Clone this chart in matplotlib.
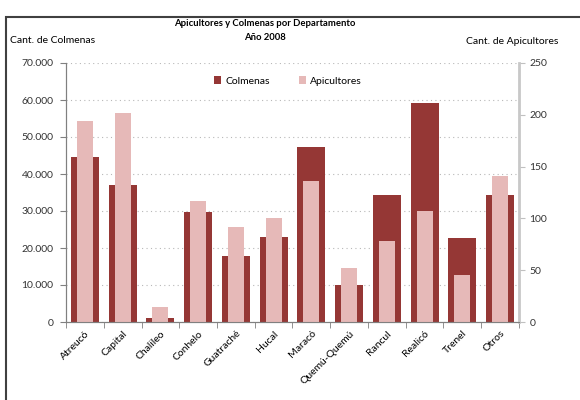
"""Apicultores y Colmenas por Departamento - Año 2008."""
import numpy as np
import matplotlib
matplotlib.use("Agg")
import matplotlib.pyplot as plt
from matplotlib.patches import Rectangle
from matplotlib.ticker import FuncFormatter, FixedLocator

plt.rcParams["font.family"] = ["Lato", "DejaVu Sans"]

departamentos = ["Atreucó", "Capital", "Chalileo", "Conhelo", "Guatraché", "Hucal",
                 "Maracó", "Quemú-Quemú", "Rancul", "Realicó", "Trenel", "Otros"]
colmenas = [44600, 37000, 1200, 29700, 17800, 22900, 47300, 9900, 34300, 59200, 22700, 34300]
apicultores = [194, 202, 14, 117, 92, 100, 136, 52, 78, 107, 45, 141]

DARK = "#953735"
LIGHT = "#E6B9B8"

fig = plt.figure(figsize=(5.8, 4.0), dpi=100)
ax = fig.add_axes([0.1138, 0.195, 0.781, 0.6475])
ax2 = ax.twinx()

x = np.arange(len(departamentos))
ax.bar(x, colmenas, 0.74, color=DARK, label="Colmenas", zorder=2)
ax2.bar(x, apicultores, 0.42, color=LIGHT, label="Apicultores", zorder=2)

ax.set_xlim(-0.5, len(departamentos) - 0.5)
ax.set_ylim(0, 70000)
ax2.set_ylim(0, 250)
ax.set_yticks(np.arange(0, 70001, 10000))
ax2.set_yticks(np.arange(0, 251, 50))
ax.yaxis.set_major_formatter(FuncFormatter(lambda v, p: f"{int(v):,}".replace(",", ".")))

ax.grid(axis="y", color="#b8b8b8", linestyle=(0, (1, 3)), linewidth=0.8, zorder=0)
ax.set_axisbelow(True)

ax.set_xticks(x)
ax.set_xticklabels(departamentos, rotation=45, ha="right", rotation_mode="anchor", fontsize=7.5)
ax.tick_params(axis="x", which="major", length=0, pad=5)
ax.xaxis.set_minor_locator(FixedLocator(np.arange(-0.5, len(departamentos), 1)))
ax.tick_params(axis="x", which="minor", length=4, color="#808080")
ax.tick_params(axis="y", length=4, color="#808080", labelsize=7.5, labelcolor="#333333", pad=5)
ax2.tick_params(axis="y", length=4, color="#c0c0c0", labelsize=7.5, labelcolor="#333333")

for a in (ax, ax2):
    a.spines["top"].set_visible(False)
    a.spines["left"].set_color("#808080")
    a.spines["bottom"].set_color("#808080")
ax2.spines["right"].set_color("#c8c8c8")
ax2.spines["right"].set_linewidth(2)
ax.spines["right"].set_visible(False)

h1, l1 = ax.get_legend_handles_labels()
h2, l2 = ax2.get_legend_handles_labels()
ax2.legend(h1 + h2, l1 + l2, loc="upper center", bbox_to_anchor=(0.49, 0.985), ncol=2,
           frameon=False, fontsize=7.5, handlelength=0.7, handleheight=0.7,
           columnspacing=2.8, handletextpad=0.4)

fig.text(0.457, 0.942, "Apicultores y Colmenas por Departamento", ha="center", va="center",
         fontsize=6.8, fontweight="bold")
fig.text(0.457, 0.907, "Año 2008", ha="center", va="center", fontsize=6.8, fontweight="bold")
fig.text(0.017, 0.898, "Cant. de Colmenas", ha="left", va="center", fontsize=7.5)
fig.text(0.962, 0.895, "Cant. de Apicultores", ha="right", va="center", fontsize=7.5)

fig.patches.append(Rectangle((0.011, -0.05), 1.2, 1.007, transform=fig.transFigure,
                             fill=False, edgecolor="#404040", linewidth=1.5))

fig.savefig("out.png", dpi=100)
